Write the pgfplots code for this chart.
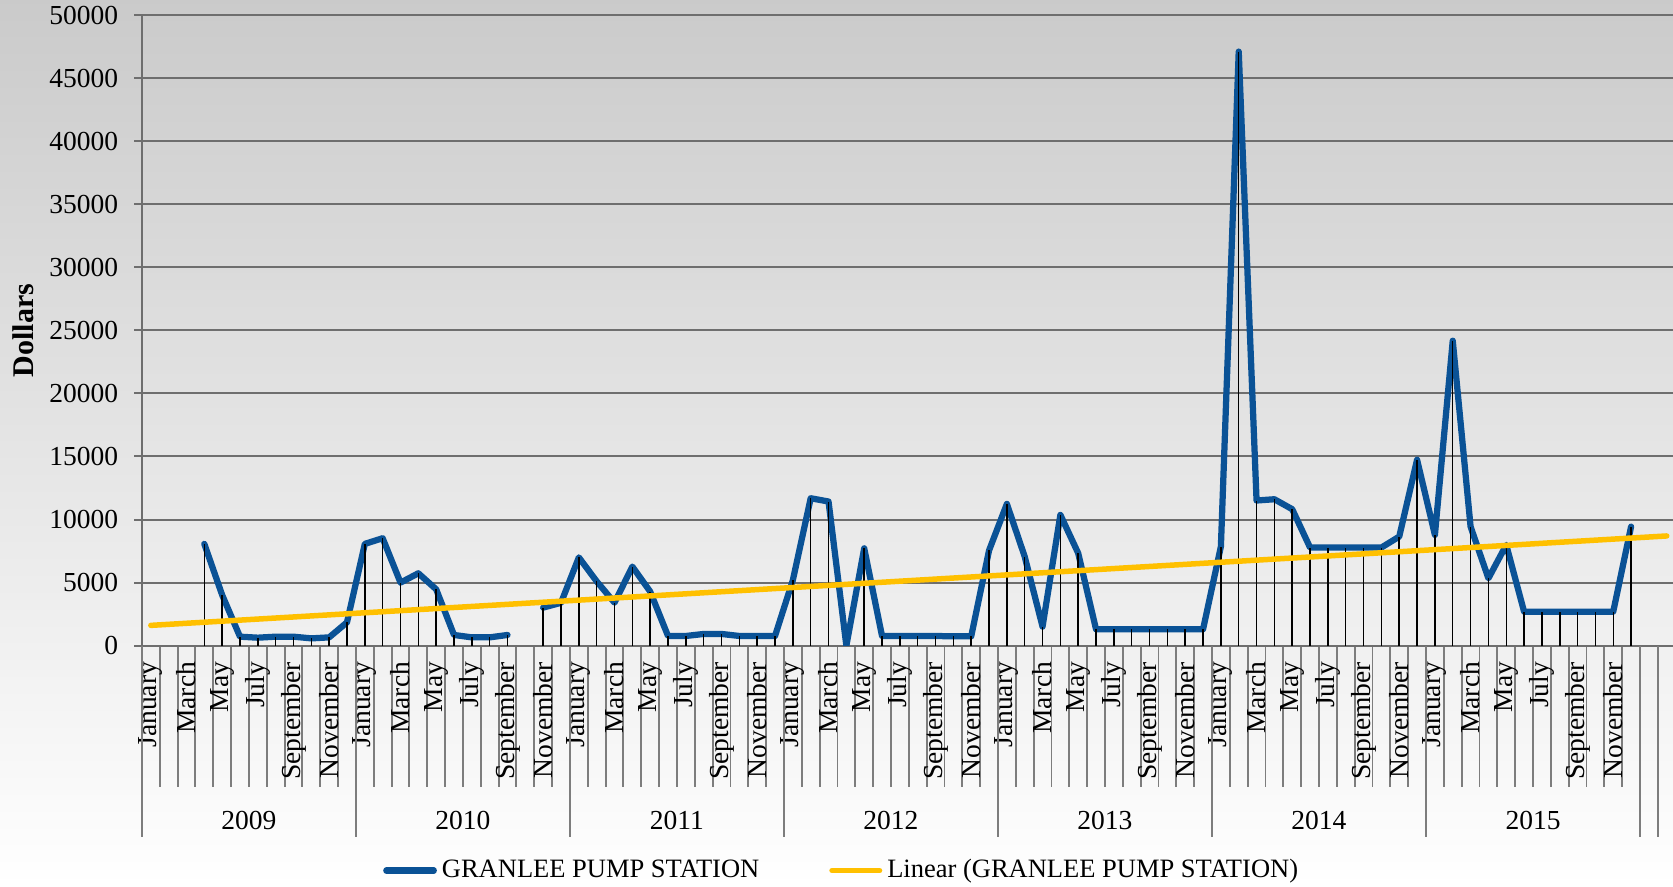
\documentclass[border=0pt]{standalone}
\usepackage{fontspec}
\setmainfont{Liberation Serif}
\usepackage{pgfplots}
\usepackage{pgfplotstable}
\pgfplotsset{compat=1.18}
\definecolor{pumpblue}{RGB}{10,82,150}
\definecolor{trendyellow}{RGB}{255,192,0}
\definecolor{gridgray}{RGB}{110,110,110}
\definecolor{tickgray}{RGB}{125,125,125}
\pgfdeclareverticalshading{chartbg}{100bp}{color(0bp)=(white); color(25bp)=(white); color(100bp)=(black!31)}

% month index + 0.5, dollars (nan = no reading)
\pgfplotstableread{
x y
0.5 nan
1.5 nan
2.5 nan
3.5 8070
4.5 4020
5.5 714
6.5 635
7.5 714
8.5 714
9.5 580
10.5 660
11.5 1850
12.5 8070
13.5 8520
14.5 5000
15.5 5740
16.5 4470
17.5 850
18.5 660
19.5 660
20.5 850
21.5 nan
22.5 3020
23.5 3400
24.5 7000
25.5 5100
26.5 3410
27.5 6270
28.5 4290
29.5 770
30.5 770
31.5 930
32.5 930
33.5 770
34.5 770
35.5 770
36.5 5200
37.5 11690
38.5 11430
39.5 0
40.5 7720
41.5 770
42.5 770
43.5 770
44.5 770
45.5 740
46.5 740
47.5 7550
48.5 11240
49.5 7060
50.5 1510
51.5 10370
52.5 7330
53.5 1300
54.5 1300
55.5 1300
56.5 1300
57.5 1300
58.5 1300
59.5 1300
60.5 7860
61.5 47100
62.5 11510
63.5 11610
64.5 10820
65.5 7780
66.5 7780
67.5 7780
68.5 7780
69.5 7780
70.5 8650
71.5 14740
72.5 8780
73.5 24180
74.5 9440
75.5 5340
76.5 7990
77.5 2700
78.5 2700
79.5 2700
80.5 2700
81.5 2700
82.5 2700
83.5 9440
}\pumpcosts

\begin{document}
\begin{tikzpicture}
\useasboundingbox (-56.76pt,-96.52pt) rectangle (612.44pt,258.28pt);
\shade[shading=chartbg] (-56.76pt,-96.52pt) rectangle (612.44pt,258.28pt);
\begin{axis}[
    at={(0pt,0pt)}, anchor=south west
  , scale only axis, width=612.44pt, height=252.28pt
  , xmin=0, xmax=85.85, ymin=0, ymax=50000
  , clip mode=individual
  , axis x line*=bottom, axis y line*=left
  , axis line style={draw=gridgray, line width=0.8pt, -}
  , ytick={0,5000,...,50000}
  , ymajorgrids
  , major grid style={draw=gridgray, line width=0.8pt}
  , scaled y ticks=false
  , yticklabel style={/pgf/number format/set thousands separator={}, /pgf/number format/assume math mode=true, xshift=-3pt, font=\fontsize{11}{13}\selectfont}
  , tick align=outside
  , major tick length=3pt
  , minor tick length=56.4pt
  , y tick style={draw=gridgray, line width=0.8pt}
  , xtick={0.5,2.5,...,82.5}
  , xticklabels={January,March,May,July,September,November,
                 January,March,May,July,September,November,
                 January,March,May,July,September,November,
                 January,March,May,July,September,November,
                 January,March,May,July,September,November,
                 January,March,May,July,September,November,
                 January,March,May,July,September,November}
  , xticklabel style={rotate=90, anchor=east, font=\fontsize{11}{13}\selectfont}
  , major x tick style={draw=none}
  , minor xtick={0,...,85}
  , minor x tick style={draw=tickgray, line width=0.75pt}
  , extra x ticks={0,12,24,36,48,60,72,84,85}
  , extra x tick labels={}
  , extra x tick style={major tick length=76.4pt, major x tick style={draw=tickgray, line width=0.75pt}}
  , ylabel={\bfseries Dollars}
  , ylabel style={at={(axis description cs:-0.0773,0.5)}, anchor=center, font=\fontsize{12}{14}\selectfont}
  , legend style={at={(axis description cs:0.458,-0.3566)}, anchor=center, draw=none, fill=none,
                  legend columns=2, font=\fontsize{10.6}{12}\selectfont,
                  /tikz/every even column/.append style={column sep=26pt}}
  , legend image code/.code={\draw[#1, line cap=round] (0pt,0pt) -- (19pt,0pt);}
  ]
\addplot[pumpblue, line width=2.5pt, line join=round, line cap=round, unbounded coords=jump] table[x=x, y=y] {\pumpcosts};
\addlegendentry{GRANLEE PUMP STATION}
\addplot[ycomb, black, line width=0.6pt, unbounded coords=discard, forget plot] table[x=x, y=y] {\pumpcosts};
\addplot[trendyellow, line width=2.2pt, line cap=round] coordinates {(0.5,1610) (85.5,8700)};
\addlegendentry{Linear (GRANLEE PUMP STATION)}
\node[anchor=base, font=\fontsize{11}{13}\selectfont, yshift=-73.5pt] at (axis cs:6,0) {2009};
\node[anchor=base, font=\fontsize{11}{13}\selectfont, yshift=-73.5pt] at (axis cs:18,0) {2010};
\node[anchor=base, font=\fontsize{11}{13}\selectfont, yshift=-73.5pt] at (axis cs:30,0) {2011};
\node[anchor=base, font=\fontsize{11}{13}\selectfont, yshift=-73.5pt] at (axis cs:42,0) {2012};
\node[anchor=base, font=\fontsize{11}{13}\selectfont, yshift=-73.5pt] at (axis cs:54,0) {2013};
\node[anchor=base, font=\fontsize{11}{13}\selectfont, yshift=-73.5pt] at (axis cs:66,0) {2014};
\node[anchor=base, font=\fontsize{11}{13}\selectfont, yshift=-73.5pt] at (axis cs:78,0) {2015};
\end{axis}
\end{tikzpicture}
\end{document}
